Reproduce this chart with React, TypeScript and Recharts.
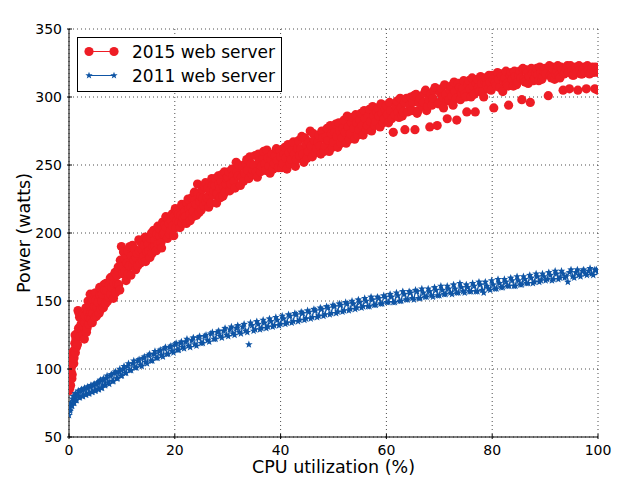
import { ScatterChart, Scatter, XAxis, YAxis, CartesianGrid, Legend, Label } from "recharts";

const RED = "#ee1d25";
const BLUE = "#0f55a5";
const FONT = "'DejaVu Sans', sans-serif";

const cpuTicks = [0, 20, 40, 60, 80, 100];
const wattTicks = [50, 100, 150, 200, 250, 300, 350];

// [cpu %, watts]
const server2015: [number, number][] = [
  [0.0, 84], [0.1, 90], [0.2, 94], [0.3, 88], [0.4, 98], [0.5, 102], [0.6, 96], [0.7, 106], [0.8, 110], [0.9, 104],
  [1.0, 114], [1.1, 119], [1.2, 112], [1.3, 122], [1.5, 126], [1.6, 118], [1.7, 143], [1.8, 130], [2.0, 138], [2.1, 124],
  [2.3, 133], [2.5, 128], [2.7, 140], [2.9, 122], [3.0, 134], [3.2, 145], [3.4, 130], [3.6, 150], [3.8, 138], [4.0, 155],
  [4.2, 142], [4.4, 134], [4.6, 151], [4.8, 146], [5.0, 156], [5.2, 139], [5.5, 149], [5.8, 160], [6.0, 144], [6.3, 155],
  [6.6, 162], [6.9, 148], [7.2, 158], [7.5, 153], [7.8, 167], [8.1, 160], [8.4, 152], [8.7, 171], [9.0, 163], [9.3, 175],
  [9.6, 158], [9.9, 190], [10.2, 170], [10.5, 181], [10.8, 165], [11.1, 187], [11.4, 176], [11.7, 169], [12.0, 191], [12.3, 180],
  [12.6, 173], [12.9, 185], [13.2, 195], [13.5, 178], [13.8, 188], [14.1, 183], [14.4, 197], [14.7, 186], [15.0, 192], [15.3, 182],
  [15.6, 200], [15.9, 190], [16.2, 195], [16.5, 187], [16.8, 205], [17.1, 198], [17.4, 193], [17.7, 208], [18.0, 200], [18.3, 212],
  [18.6, 196], [18.9, 207], [19.2, 202], [19.5, 214], [19.8, 198], [20.1, 218], [20.4, 209], [20.7, 214], [21.0, 204], [21.3, 221],
  [21.6, 211], [21.9, 216], [22.2, 207], [22.5, 225], [22.8, 214], [23.1, 219], [23.4, 212], [23.7, 230], [24.0, 221], [24.3, 236],
  [24.6, 215], [24.9, 227], [25.2, 232], [25.5, 220], [25.8, 237], [26.1, 226], [26.4, 219], [26.7, 231], [27.0, 240], [27.3, 228],
  [27.6, 235], [27.9, 222], [28.2, 242], [28.5, 233], [28.8, 238], [29.1, 227], [29.4, 245], [29.7, 236], [30.0, 241], [30.4, 231],
  [30.8, 247], [31.2, 238], [31.6, 252], [32.0, 242], [32.4, 235], [32.8, 249], [33.2, 244], [33.6, 254], [34.0, 240], [34.4, 251],
  [34.8, 246], [35.2, 257], [35.6, 241], [36.0, 253], [36.4, 249], [36.8, 260], [37.2, 246], [37.6, 255], [38.0, 244], [38.4, 258],
  [38.8, 251], [39.2, 262], [39.6, 248], [40.0, 256], [40.4, 251], [40.8, 263], [41.2, 247], [41.6, 259], [42.0, 254], [42.4, 267],
  [42.8, 249], [43.2, 262], [43.6, 257], [44.0, 271], [44.4, 252], [44.8, 265], [45.2, 260], [45.6, 275], [46.0, 256], [46.4, 268],
  [46.8, 262], [47.2, 272], [47.6, 258], [48.0, 270], [48.4, 264], [48.8, 277], [49.2, 260], [49.6, 273], [50.0, 267], [50.4, 280],
  [50.8, 263], [51.2, 275], [51.6, 270], [52.0, 283], [52.4, 266], [52.8, 278], [53.2, 273], [53.6, 285], [54.0, 269], [54.4, 281],
  [54.8, 276], [55.2, 288], [55.6, 272], [56.0, 284], [56.4, 279], [56.8, 291], [57.2, 275], [57.6, 286], [58.0, 282], [58.4, 292],
  [58.8, 278], [59.2, 288], [59.6, 284], [60.0, 294], [60.4, 281], [60.8, 290], [61.3, 274], [61.6, 287], [62.0, 297], [62.4, 285],
  [62.8, 292], [63.2, 289], [63.5, 276], [63.8, 299], [64.4, 294], [64.8, 290], [65.2, 301], [65.4, 276], [65.8, 288], [66.2, 296],
  [66.8, 293], [67.2, 303], [67.6, 290], [68.0, 298], [68.2, 278], [68.6, 294], [69.0, 305], [69.6, 279], [70.0, 296], [70.4, 306],
  [70.8, 292], [71.2, 302], [71.5, 284], [71.8, 298], [72.2, 308], [72.6, 294], [73.0, 304], [73.3, 283], [73.6, 310], [74.0, 298],
  [74.4, 306], [74.8, 302], [75.2, 289], [75.6, 312], [76.0, 300], [76.4, 308], [76.8, 289], [77.2, 313], [77.6, 304], [78.0, 310],
  [78.4, 300], [78.8, 314], [79.2, 306], [79.6, 311], [80.0, 316], [80.3, 292], [80.8, 308], [81.2, 313], [81.6, 317], [82.0, 304],
  [82.4, 314], [82.8, 310], [83.1, 294], [83.6, 318], [84.0, 308], [84.4, 315], [84.8, 311], [85.2, 319], [85.6, 298], [86.0, 313],
  [86.4, 320], [86.8, 310], [87.2, 296], [87.6, 317], [88.0, 314], [88.4, 321], [88.8, 312], [89.2, 318], [89.6, 315], [90.0, 321],
  [90.6, 301], [91.0, 316], [91.4, 322], [91.8, 313], [92.2, 319], [92.6, 316], [93.0, 322], [93.4, 305], [93.8, 318], [94.2, 323],
  [94.6, 306], [95.0, 319], [95.4, 316], [95.8, 322], [96.2, 305], [96.6, 320], [97.0, 317], [97.4, 322], [97.8, 306], [98.2, 320],
  [98.6, 318], [99.0, 322], [99.4, 306], [99.8, 320], [100.0, 305],
];

// second pass of readings, filling the inside of the red band
const server2015Fill: [number, number][] = [
  [0.15, 86], [0.35, 100], [0.55, 93], [0.75, 112], [0.95, 108], [1.15, 125], [1.4, 116], [1.9, 141], [2.2, 131], [2.4, 137],
  [2.6, 125], [2.8, 131], [3.1, 139], [3.3, 127], [3.5, 142], [3.7, 133], [3.9, 147], [4.1, 137], [4.3, 149], [4.5, 141],
  [4.7, 155], [4.9, 138], [5.1, 151], [5.3, 145], [5.7, 141], [5.9, 154], [6.2, 150], [6.5, 145], [6.8, 158], [7.0, 163],
  [7.3, 150], [7.6, 162], [7.9, 155], [8.2, 168], [8.5, 163], [8.8, 156], [9.1, 169], [9.4, 162], [9.7, 180], [10.0, 175],
  [10.3, 186], [10.6, 172], [10.9, 178], [11.2, 170], [11.5, 190], [11.8, 183], [12.1, 176], [12.4, 188], [12.7, 182], [13.0, 176],
  [13.3, 187], [13.6, 193], [13.9, 180], [14.2, 191], [14.5, 179], [14.8, 195], [15.1, 187], [15.4, 196], [15.7, 185], [16.0, 202],
  [16.3, 190], [16.6, 199], [16.9, 192], [17.2, 203], [17.5, 189], [17.8, 199], [18.1, 206], [18.4, 204], [18.7, 210], [19.0, 199],
  [19.3, 209], [19.6, 205], [19.9, 212], [20.2, 204], [20.5, 216], [20.8, 208], [21.1, 213], [21.4, 207], [21.7, 220], [22.0, 212],
  [22.3, 222], [22.6, 218], [22.9, 209], [23.2, 226], [23.5, 216], [23.8, 224], [24.1, 213], [24.4, 229], [24.7, 223], [25.0, 217],
  [25.3, 226], [25.6, 234], [25.9, 223], [26.2, 233], [26.5, 228], [26.8, 222], [27.1, 235], [27.4, 231], [27.7, 240], [28.0, 229],
  [28.3, 236], [28.6, 226], [28.9, 243], [29.2, 234], [29.5, 230], [29.8, 240], [30.2, 245], [30.6, 236], [31.0, 242], [31.4, 233],
  [31.8, 245], [32.2, 250], [32.6, 241], [33.0, 238], [33.4, 251], [33.8, 246], [34.2, 256], [34.6, 243], [35.0, 250], [35.4, 245],
  [35.8, 258], [36.2, 245], [36.6, 255], [37.0, 251], [37.4, 261], [37.8, 249], [38.2, 254], [38.6, 247], [39.0, 257], [39.4, 253],
  [39.8, 261], [40.2, 248], [40.6, 258], [41.0, 255], [41.4, 265], [41.8, 251], [42.2, 261], [42.6, 258], [43.0, 254], [43.4, 268],
  [43.8, 262], [44.2, 258], [44.6, 270], [45.0, 255], [45.4, 267], [45.8, 264], [46.2, 273], [46.6, 259], [47.0, 267], [47.4, 264],
  [47.8, 275], [48.2, 260], [48.6, 271], [49.0, 268], [49.4, 279], [49.8, 263], [50.2, 274], [50.6, 271], [51.0, 281], [51.4, 266],
  [51.8, 277], [52.2, 274], [52.6, 286], [53.0, 269], [53.4, 281], [53.8, 277], [54.2, 287], [54.6, 272], [55.0, 283], [55.4, 279],
  [55.8, 290], [56.2, 276], [56.6, 286], [57.0, 282], [57.4, 293], [57.8, 279], [58.2, 289], [58.6, 286], [59.0, 295], [59.4, 281],
  [59.8, 291], [60.2, 287], [60.6, 296], [61.0, 284], [61.8, 293], [62.2, 289], [62.6, 299], [63.0, 286], [63.4, 296], [64.0, 289],
  [64.6, 300], [65.0, 296], [65.6, 302], [66.0, 290], [66.4, 299], [67.0, 296], [67.4, 305], [67.8, 293], [68.4, 302], [68.8, 299],
  [69.2, 307], [69.8, 295], [70.2, 303], [70.6, 300], [71.0, 309], [71.4, 297], [72.0, 305], [72.4, 301], [72.8, 311], [73.2, 299],
  [73.8, 307], [74.2, 303], [74.6, 312], [75.0, 300], [75.4, 309], [75.8, 306], [76.2, 314], [76.6, 302], [77.0, 310], [77.4, 307],
  [77.8, 315], [78.2, 304], [78.6, 312], [79.0, 309], [79.4, 316], [79.8, 305], [80.2, 313], [80.6, 311], [81.0, 318], [81.4, 307],
  [81.8, 315], [82.2, 312], [82.6, 319], [83.0, 308], [83.4, 316], [83.8, 313], [84.2, 319], [84.6, 309], [85.0, 316], [85.4, 314],
  [85.8, 321], [86.2, 311], [86.6, 318], [87.0, 315], [87.4, 321], [87.8, 312], [88.2, 318], [88.6, 316], [89.0, 322], [89.4, 313],
  [89.8, 319], [90.2, 317], [90.8, 323], [91.2, 314], [91.6, 320], [92.0, 317], [92.4, 323], [92.8, 314], [93.2, 320], [93.6, 317],
  [94.0, 321], [94.4, 318], [94.8, 323], [95.2, 316], [95.6, 321], [96.0, 318], [96.4, 323], [96.8, 317], [97.2, 321], [97.6, 318],
  [98.0, 323], [98.4, 317], [98.8, 321], [99.2, 318], [99.6, 322], [100.0, 318],
];

const server2011: [number, number][] = [
  [0.0, 66], [0.1, 72], [0.2, 69], [0.3, 75], [0.5, 73], [0.7, 78], [0.9, 75], [1.1, 80], [1.3, 77], [1.6, 82],
  [1.9, 79], [2.2, 84], [2.5, 80], [2.8, 85], [3.1, 81], [3.4, 86], [3.7, 82], [4.0, 87], [4.3, 83], [4.6, 88],
  [4.9, 84], [5.2, 89], [5.5, 85], [5.8, 91], [6.1, 86], [6.4, 92], [6.7, 88], [7.0, 93], [7.4, 90], [7.8, 95],
  [8.2, 91], [8.6, 97], [9.0, 93], [9.4, 98], [9.8, 95], [10.2, 100], [10.6, 97], [11.0, 102], [11.5, 99], [12.0, 104],
  [12.5, 101], [13.0, 106], [13.5, 103], [14.0, 108], [14.5, 105], [15.0, 110], [15.5, 106], [16.0, 111], [16.5, 108], [17.0, 113],
  [17.5, 110], [18.0, 115], [18.5, 111], [19.0, 116], [19.5, 113], [20.0, 118], [20.5, 114], [21.0, 119], [21.5, 116], [22.0, 120],
  [22.6, 117], [23.2, 121], [23.8, 118], [24.4, 123], [25.0, 119], [25.6, 124], [26.2, 121], [26.8, 126], [27.4, 122], [28.0, 127],
  [28.6, 124], [29.2, 128], [29.8, 125], [30.4, 129], [31.0, 126], [31.6, 130], [32.2, 127], [32.8, 131], [33.4, 128],
  [34.6, 132], [35.2, 129], [35.8, 133], [36.4, 130], [37.0, 134], [37.6, 131], [38.2, 135], [38.8, 132], [39.4, 136], [40.0, 133],
  [40.6, 137], [41.2, 134], [41.8, 139], [42.4, 135], [43.0, 140], [43.6, 136], [44.2, 141], [44.8, 137], [45.4, 142], [46.0, 138],
  [46.6, 143], [47.2, 139], [47.8, 144], [48.4, 140], [49.0, 145], [49.6, 141], [50.2, 146], [50.8, 142], [51.4, 147], [52.0, 143],
  [52.6, 148], [53.2, 144], [53.8, 148], [54.4, 145], [55.0, 149], [55.6, 146], [56.2, 150], [56.8, 146], [57.4, 151], [58.0, 147],
  [58.6, 152], [59.2, 148], [59.8, 153], [60.4, 149], [61.0, 153], [61.6, 149], [62.2, 154], [62.8, 150], [63.4, 155], [64.0, 151],
  [64.6, 156], [65.2, 151], [65.8, 157], [66.4, 152], [67.0, 156], [67.6, 153], [68.2, 157], [68.8, 153], [69.4, 158], [70.0, 154],
  [70.6, 158], [71.2, 155], [71.8, 159], [72.4, 155], [73.0, 159], [73.6, 156], [74.2, 160], [74.8, 156], [75.4, 160], [76.0, 157],
  [76.6, 161], [77.2, 157], [77.8, 162], [78.4, 156], [79.0, 161], [79.6, 158], [80.2, 162], [80.8, 159], [81.4, 163], [82.0, 160],
  [82.6, 164], [83.2, 161], [83.8, 165], [84.4, 161], [85.0, 165], [85.6, 162], [86.2, 166], [86.8, 163], [87.4, 167], [88.0, 164],
  [88.6, 168], [89.2, 165], [89.8, 168], [90.4, 166], [91.0, 169], [91.6, 166], [92.2, 170], [92.8, 167], [93.4, 170], [94.0, 168],
  [94.6, 171], [95.2, 168], [95.8, 171], [96.4, 169], [97.0, 172], [97.6, 170], [98.2, 172], [98.8, 170], [99.4, 173],
  [100.0, 171],
];

// upper and lower edges of the blue band, read between the points above
const server2011Edges: [number, number][] = [
  [0.05, 73], [0.25, 70], [0.4, 74], [0.6, 73], [0.8, 80], [1.0, 75], [1.2, 82], [1.45, 77], [1.75, 84], [2.05, 79],
  [2.35, 85], [2.65, 80], [2.95, 86], [3.25, 81], [3.55, 87], [3.85, 82], [4.15, 88], [4.45, 83], [4.75, 89], [5.05, 84],
  [5.35, 90], [5.65, 85], [5.95, 92], [6.25, 86], [6.55, 93], [6.85, 88], [7.2, 95], [7.6, 89], [8.0, 96], [8.4, 91],
  [8.8, 98], [9.2, 93], [9.6, 100], [10.0, 95], [10.4, 102], [10.8, 97], [11.25, 104], [11.75, 99], [12.25, 106], [12.75, 101],
  [13.25, 107], [13.75, 102], [14.25, 109], [14.75, 104], [15.25, 111], [15.75, 106], [16.25, 113], [16.75, 108], [17.25, 114], [17.75, 109],
  [18.25, 116], [18.75, 111], [19.25, 117], [19.75, 112], [20.25, 119], [20.75, 114], [21.25, 120], [21.75, 115], [22.3, 122], [22.9, 116],
  [23.5, 123], [24.1, 117], [24.7, 124], [25.3, 119], [25.9, 125], [26.5, 120], [27.1, 127], [27.7, 122], [28.3, 128], [28.9, 123],
  [29.5, 130], [30.1, 124], [30.7, 131], [31.3, 125], [31.9, 132], [32.5, 126], [33.1, 133], [33.7, 127], [34.3, 134], [34.9, 128],
  [35.5, 135], [36.1, 129], [36.7, 136], [37.3, 130], [37.9, 137], [38.5, 131], [39.1, 138], [39.7, 132], [40.3, 139], [40.9, 133],
  [41.5, 140], [42.1, 134], [42.7, 141], [43.3, 135], [43.9, 142], [44.5, 136], [45.1, 143], [45.7, 137], [46.3, 144], [46.9, 138],
  [47.5, 145], [48.1, 139], [48.7, 146], [49.3, 140], [49.9, 147], [50.5, 141], [51.1, 148], [51.7, 142], [52.3, 149], [52.9, 143],
  [53.5, 150], [54.1, 144], [54.7, 151], [55.3, 145], [55.9, 152], [56.5, 146], [57.1, 153], [57.7, 147], [58.3, 153], [58.9, 148],
  [59.5, 154], [60.1, 149], [60.7, 155], [61.3, 149], [61.9, 156], [62.5, 150], [63.1, 157], [63.7, 151], [64.3, 157], [64.9, 152],
  [65.5, 158], [66.1, 152], [66.7, 159], [67.3, 153], [67.9, 159], [68.5, 154], [69.1, 160], [69.7, 154], [70.3, 161], [70.9, 155],
  [71.5, 161], [72.1, 156], [72.7, 162], [73.3, 156], [73.9, 163], [74.5, 157], [75.1, 162], [75.7, 157], [76.3, 163], [76.9, 157],
  [77.5, 164], [78.1, 158], [78.7, 164], [79.3, 159], [79.9, 165], [80.5, 159], [81.1, 166], [81.7, 160], [82.3, 166], [82.9, 161],
  [83.5, 167], [84.1, 161], [84.7, 168], [85.3, 162], [85.9, 168], [86.5, 163], [87.1, 169], [87.7, 163], [88.3, 170], [88.9, 164],
  [89.5, 170], [90.1, 165], [90.7, 171], [91.3, 165], [91.9, 172], [92.5, 166], [93.1, 172], [93.7, 167], [94.9, 173], [95.5, 167],
  [96.1, 173], [96.7, 168], [97.3, 173], [97.9, 169], [98.5, 174], [99.1, 169], [99.7, 173],
];

// the two stray stars that sit off the blue band
const server2011Stray: [number, number][] = [[34.0, 118], [94.3, 164]];

const toRows = (pts: [number, number][]) =>
  pts.map(([cpu, watts]) => ({ cpu, watts })).sort((a, b) => a.cpu - b.cpu);

const data2015 = toRows([...server2015, ...server2015Fill]);
const data2011 = toRows([...server2011, ...server2011Edges]);
const stray2011 = toRows(server2011Stray);

function starPoints(cx: number, cy: number, r: number) {
  const pts: string[] = [];
  for (let k = 0; k < 10; k++) {
    const a = (-90 + k * 36) * Math.PI / 180;
    const rr = k % 2 ? r * 0.42 : r;
    pts.push(`${cx + rr * Math.cos(a)},${cy + rr * Math.sin(a)}`);
  }
  return pts.join(" ");
}

const Dot = (p: any) => <circle cx={p.cx} cy={p.cy} r={4.6} fill={RED} />;
const Star = (p: any) => <polygon points={starPoints(p.cx, p.cy, 4.0)} fill={BLUE} />;

const BottomTick = ({ x, y, payload }: any) => (
  <g>
    <line x1={x} x2={x} y1={y} y2={y - 5} stroke="#000" />
    <text x={x} y={y + 16} textAnchor="middle" fontSize={14} fill="#000">{payload.value}</text>
  </g>
);
const LeftTick = ({ x, y, payload }: any) => (
  <g>
    <line x1={x} x2={x + 5} y1={y} y2={y} stroke="#000" />
    <text x={x - 5} y={y + 5} textAnchor="end" fontSize={14} fill="#000">{payload.value}</text>
  </g>
);
const TopTick = ({ x, y }: any) => <line x1={x} x2={x} y1={y} y2={y + 5} stroke="#000" />;
const RightTick = ({ x, y }: any) => <line x1={x} x2={x - 5} y1={y} y2={y} stroke="#000" />;

const LegendBox = () => (
  <svg width={206} height={56} style={{ display: "block" }}>
    <rect x={0.5} y={0.5} width={204} height={54} fill="#fff" stroke="#000" />
    <line x1={12} x2={37} y1={14.5} y2={14.5} stroke={RED} strokeWidth={1} />
    <circle cx={12} cy={14.5} r={4.6} fill={RED} />
    <circle cx={37} cy={14.5} r={4.6} fill={RED} />
    <text x={55} y={20.5} fontSize={17} fill="#000">2015 web server</text>
    <line x1={12} x2={37} y1={38.5} y2={38.5} stroke={BLUE} strokeWidth={1} />
    <polygon points={starPoints(12, 38.5, 3.8)} fill={BLUE} />
    <polygon points={starPoints(37, 38.5, 3.8)} fill={BLUE} />
    <text x={55} y={44.5} fontSize={17} fill="#000">2011 web server</text>
  </svg>
);

export default function App() {
  return (
    <div style={{ position: "absolute", left: 0, top: 0, fontFamily: FONT }}>
      <ScatterChart width={621} height={478} margin={{ top: 29, right: 23, bottom: 0, left: 0 }}>
        <CartesianGrid stroke="#000" strokeOpacity={0.7} strokeDasharray="1 3" />
        <XAxis type="number" dataKey="cpu" domain={[0, 100]} ticks={cpuTicks} height={41}
          allowDataOverflow axisLine={{ stroke: "#000" }} tickLine={false} tickSize={0} tick={<BottomTick />}>
          <Label value="CPU utilization (%)" position="insideBottom" offset={5}
            style={{ fontSize: 17.5, fill: "#000", fontFamily: FONT }} />
        </XAxis>
        <XAxis xAxisId="top" orientation="top" type="number" domain={[0, 100]} ticks={cpuTicks} height={0}
          axisLine={{ stroke: "#000" }} tickLine={false} tickSize={0} tick={<TopTick />}>
          <Label value="Power consumption of two generation of web servers" position="top" offset={7}
            style={{ fontSize: 16, fill: "#000", fontFamily: FONT }} />
        </XAxis>
        <YAxis type="number" dataKey="watts" domain={[50, 350]} ticks={wattTicks} width={69}
          allowDataOverflow axisLine={{ stroke: "#000" }} tickLine={false} tickSize={0} tick={<LeftTick />}>
          <Label value="Power (watts)" angle={-90} position="insideLeft" offset={24}
            style={{ fontSize: 17.5, fill: "#000", fontFamily: FONT, textAnchor: "middle" }} />
        </YAxis>
        <YAxis yAxisId="right" orientation="right" type="number" domain={[50, 350]} ticks={wattTicks} width={0}
          axisLine={{ stroke: "#000" }} tickLine={false} tickSize={0} tick={<RightTick />} />
        <Legend layout="vertical" align="center" verticalAlign="middle" content={<LegendBox />}
          wrapperStyle={{ position: "absolute", left: 77, top: 37, width: 206, height: 56 }} />
        <Scatter name="2015 web server" data={data2015} fill={RED} shape={Dot} isAnimationActive={false} />
        <Scatter name="2011 web server" data={data2011} fill={BLUE} line={{ stroke: BLUE, strokeWidth: 1.2 }}
          shape={Star} isAnimationActive={false} />
        <Scatter name="2011 stray" data={stray2011} fill={BLUE} shape={Star} legendType="none" isAnimationActive={false} />
      </ScatterChart>
    </div>
  );
}
